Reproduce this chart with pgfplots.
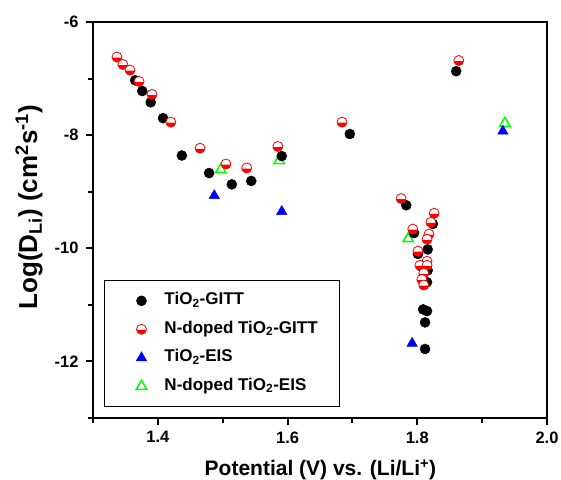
\documentclass[border=0pt]{standalone}
\usepackage{pgfplots}
\pgfplotsset{compat=1.18}
\usepackage{fontspec}
\setmainfont{Liberation Sans}

% circle whose lower half is filled with red, upper half left white
\pgfdeclareplotmark{halfdisc}{%
  \pgfpathcircle{\pgfpointorigin}{\pgfplotmarksize}%
  \pgfusepathqfillstroke
  \begin{pgfscope}%
  \pgfsetfillcolor{red}%
  \pgfpathmoveto{\pgfqpoint{0.99\pgfplotmarksize}{-0.12\pgfplotmarksize}}%
  \pgfpatharc{-7}{-173}{\pgfplotmarksize}%
  \pgfpathclose
  \pgfusepathqfill
  \end{pgfscope}%
}

\begin{document}
\begin{tikzpicture}
\path[use as bounding box] (-93pt,-61pt) rectangle (468pt,418pt);
\begin{axis}[
  at={(0pt,0pt)}, anchor=south west,
  scale only axis, width=454pt, height=396pt,
  xmin=1.3, xmax=2.0, ymin=-13, ymax=-6,
  axis line style={line width=2.5pt},
  xtick={1.4,1.6,1.8,2.0}, xticklabels={1.4,1.6,1.8,2.0},
  minor xtick={1.3,1.5,1.7,1.9},
  ytick={-6,-8,-10,-12}, minor ytick={-7,-9,-11,-13},
  tick align=outside, xtick pos=left, ytick pos=left,
  major tick length=7pt, minor tick length=4.5pt,
  every tick/.style={black, line width=2pt},
  ticklabel style={font=\fontsize{16.5}{16.5}\selectfont\bfseries},
  xticklabel style={yshift=-3pt},
  yticklabel style={xshift=-4pt},
  /pgf/number format/assume math mode=true,
  xlabel={Potential (V) vs. (Li/Li\textsuperscript{+})},
  ylabel={Log(D\textsubscript{Li}) (cm\textsuperscript{2}s\textsuperscript{-1})},
  xlabel style={font=\fontsize{21}{21}\selectfont\bfseries, at={(axis description cs:0.501,-0.146)}, anchor=base},
  ylabel style={font=\fontsize{26}{26}\selectfont\bfseries, at={(axis description cs:-0.123,0.532)}, anchor=base, rotate=0},
  legend style={at={(axis description cs:0.024,0.028)}, anchor=south west,
    draw=black, line width=1.2pt, inner xsep=20pt, inner ysep=10pt,
    font=\fontsize{17}{17}\selectfont\bfseries, row sep=8.5pt,
    nodes={inner sep=2pt, text height=12pt, text depth=4pt}},
  legend cell align=left,
  legend image code/.code={%
    \path[draw=none] (0pt,0pt) -- (38pt,0pt);
    \draw[#1] plot[only marks] coordinates {(17pt,0pt)};},
]
\addlegendimage{only marks, mark=*, mark size=5pt, black, mark options={line width=0.5pt}}
\addlegendentry{TiO\textsubscript{2}-GITT}
\addlegendimage{only marks, mark=halfdisc, mark size=5pt, mark options={draw=red, fill=white, line width=0.8pt}}
\addlegendentry{N-doped TiO\textsubscript{2}-GITT}
\addlegendimage{only marks, mark=triangle*, mark size=6pt, blue, mark options={line width=0.5pt}}
\addlegendentry{TiO\textsubscript{2}-EIS}
\addlegendimage{only marks, mark=triangle*, mark size=6pt, mark options={draw=green, fill=white, line width=1.5pt}}
\addlegendentry{N-doped TiO\textsubscript{2}-EIS}

% N-doped TiO2, EIS
\addplot[forget plot, only marks, mark=triangle*, mark size=6pt, mark options={draw=green, fill=white, line width=1.5pt}]
  coordinates {(1.497,-8.61) (1.587,-8.45) (1.786,-9.83) (1.935,-7.79)};
% TiO2, EIS
\addplot[forget plot, only marks, mark=triangle*, mark size=6pt, blue, mark options={line width=0.5pt}]
  coordinates {(1.487,-9.07) (1.591,-9.35) (1.792,-11.68) (1.932,-7.93)};
% TiO2, GITT
\addplot[forget plot, only marks, mark=*, mark size=5pt, black, mark options={line width=0.5pt}]
  coordinates {
  (1.365,-7.03) (1.376,-7.22) (1.389,-7.42) (1.408,-7.70) (1.437,-8.36)
  (1.479,-8.67) (1.514,-8.87) (1.544,-8.81) (1.591,-8.37) (1.696,-7.98)
  (1.860,-6.87) (1.783,-9.24) (1.824,-9.57) (1.795,-9.73) (1.816,-10.02)
  (1.801,-10.10) (1.806,-10.32) (1.816,-10.39) (1.815,-10.60) (1.809,-11.08)
  (1.815,-11.11) (1.812,-11.31) (1.812,-11.78)};
% N-doped TiO2, GITT
\addplot[forget plot, only marks, mark=halfdisc, mark size=5pt, mark options={draw=red, fill=white, line width=0.8pt}]
  coordinates {
  (1.337,-6.62) (1.346,-6.75) (1.357,-6.85) (1.371,-7.05) (1.391,-7.28)
  (1.420,-7.77) (1.465,-8.23) (1.505,-8.51) (1.537,-8.58) (1.585,-8.20)
  (1.684,-7.77) (1.864,-6.68) (1.775,-9.12) (1.826,-9.38) (1.821,-9.54)
  (1.793,-9.66) (1.818,-9.75) (1.815,-9.84) (1.801,-10.05) (1.815,-10.23)
  (1.804,-10.30) (1.815,-10.30) (1.810,-10.44) (1.807,-10.55) (1.810,-10.65)};
\end{axis}
\end{tikzpicture}
\end{document}
